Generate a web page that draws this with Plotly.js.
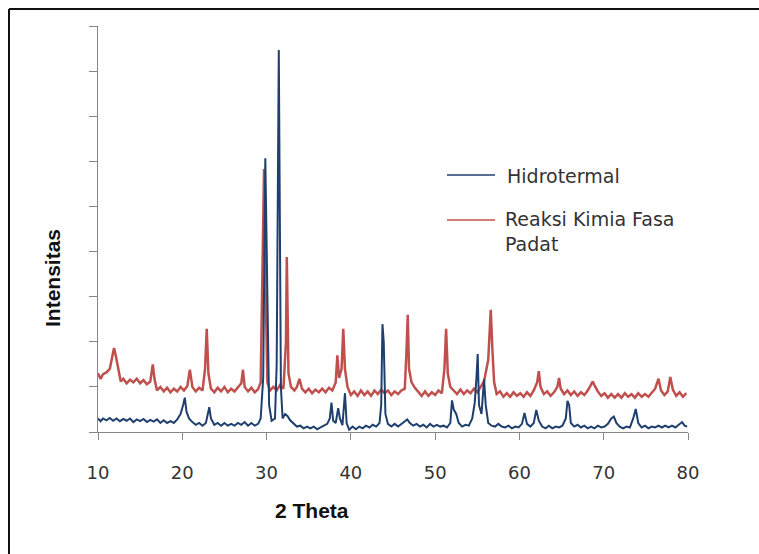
<!DOCTYPE html>
<html>
<head>
<meta charset="utf-8">
<script src="https://cdn.plot.ly/plotly-3.0.1.min.js"></script>
<style>
html,body{margin:0;padding:0;background:#fff;}
#chart{width:759px;height:554px;}
</style>
</head>
<body>
<div id="chart"></div>
<script>
// ---- data (2 Theta in degrees, intensity in arbitrary units) ----
const seriesNames = ["Hidrotermal", "Reaksi Kimia Fasa<br>Padat"];

const redX = [10.0,10.3,10.6,11.0,11.4,11.7,11.9,12.1,12.4,12.7,13.0,13.4,13.8,14.2,14.6,15.0,15.4,15.8,16.2,16.5,16.7,17.0,17.4,17.8,18.2,18.6,19.0,19.4,19.8,20.2,20.6,20.9,21.2,21.6,22.0,22.4,22.7,22.9,23.1,23.4,23.8,24.2,24.6,25.0,25.4,25.8,26.2,26.6,27.0,27.2,27.4,27.8,28.2,28.6,29.0,29.3,29.5,29.7,29.9,30.1,30.4,30.8,31.2,31.6,32.0,32.3,32.4,32.6,32.9,33.3,33.6,33.9,34.2,34.6,35.0,35.4,35.8,36.2,36.6,37.0,37.4,37.8,38.2,38.4,38.6,38.9,39.1,39.3,39.6,40.0,40.4,40.8,41.2,41.6,42.0,42.4,42.8,43.2,43.6,44.0,44.4,44.8,45.2,45.6,46.0,46.4,46.6,46.75,46.9,47.2,47.6,48.0,48.4,48.8,49.2,49.6,50.0,50.4,50.8,51.1,51.3,51.5,51.8,52.2,52.6,53.0,53.4,53.8,54.2,54.6,55.0,55.4,55.8,56.3,56.6,56.8,57.0,57.3,57.7,58.1,58.5,58.9,59.3,59.7,60.1,60.5,60.9,61.3,61.7,62.1,62.3,62.5,62.9,63.3,63.7,64.1,64.5,64.7,64.9,65.3,65.7,66.1,66.5,66.9,67.3,67.7,68.1,68.5,68.7,68.9,69.3,69.7,70.1,70.5,70.9,71.3,71.7,72.1,72.5,72.9,73.3,73.7,74.1,74.5,74.9,75.3,75.7,76.1,76.5,76.8,77.2,77.6,77.9,78.2,78.6,79.0,79.4,79.8];
const redY = [130,118,128,132,140,165,186,170,140,112,118,108,116,110,118,108,115,106,112,150,118,92,100,90,98,88,96,90,100,92,102,138,100,90,98,92,140,229,130,96,88,98,90,100,88,96,90,100,108,138,100,90,98,88,95,110,400,583,300,110,92,100,92,104,96,200,388,130,100,92,100,118,96,88,96,86,94,88,96,88,98,92,110,170,120,140,229,140,100,82,90,80,92,82,90,80,92,84,94,86,92,82,90,84,92,96,180,260,140,110,98,88,80,90,80,88,82,92,86,140,229,130,100,92,84,94,84,92,86,96,88,100,112,160,271,180,110,84,90,78,86,78,88,80,86,78,88,80,92,110,135,100,84,90,80,88,100,120,96,84,92,82,90,80,88,82,92,105,112,104,90,80,86,76,84,76,84,76,86,78,84,76,86,78,84,78,88,96,118,92,82,90,122,94,80,88,78,86];

const blueX = [10.0,10.3,10.6,11.0,11.4,11.8,12.2,12.6,13.0,13.4,13.8,14.2,14.6,15.0,15.4,15.8,16.2,16.6,17.0,17.4,17.8,18.2,18.6,19.0,19.4,19.8,20.1,20.3,20.5,20.8,21.2,21.6,22.0,22.4,22.8,23.0,23.2,23.4,23.8,24.2,24.6,25.0,25.4,25.8,26.2,26.6,27.0,27.4,27.8,28.2,28.6,29.0,29.3,29.6,29.85,30.1,30.3,30.6,31.0,31.2,31.45,31.7,31.9,32.2,32.5,32.8,33.2,33.6,34.0,34.4,34.8,35.2,35.6,36.0,36.4,36.8,37.2,37.5,37.7,37.9,38.2,38.5,38.7,39.0,39.3,39.5,39.8,40.2,40.6,41.0,41.4,41.8,42.2,42.6,43.0,43.4,43.6,43.75,43.9,44.1,44.4,44.8,45.2,45.6,46.0,46.4,46.7,47.0,47.4,47.8,48.2,48.6,49.0,49.4,49.8,50.2,50.6,51.0,51.4,51.8,52.0,52.2,52.5,52.8,53.2,53.6,54.0,54.4,54.7,54.9,55.05,55.2,55.5,55.8,56.0,56.3,56.7,57.1,57.5,57.9,58.3,58.7,59.1,59.5,59.9,60.3,60.6,60.9,61.3,61.7,62.0,62.3,62.7,63.1,63.5,63.9,64.3,64.7,65.1,65.5,65.7,65.9,66.1,66.5,66.9,67.3,67.7,68.1,68.5,68.9,69.3,69.7,70.1,70.5,70.9,71.2,71.5,71.9,72.3,72.7,73.1,73.5,73.8,74.1,74.5,74.9,75.3,75.7,76.1,76.5,76.9,77.3,77.7,78.1,78.5,78.9,79.3,79.6,79.9];
const blueY = [30,24,30,26,31,25,30,24,29,25,30,22,28,24,29,22,27,23,28,20,26,20,24,20,28,40,60,76,45,30,22,16,20,14,20,40,55,30,16,20,14,20,14,18,14,20,16,22,14,20,14,18,30,120,607,300,60,25,30,150,847,100,30,40,35,26,18,12,14,8,12,8,12,6,10,14,18,30,65,25,20,53,30,15,86,20,5,12,6,12,8,14,10,16,12,20,60,239,200,40,18,12,18,12,18,22,28,20,14,18,12,16,10,18,12,16,12,14,10,20,70,50,40,20,12,16,14,30,65,120,173,60,40,117,60,20,14,12,18,12,10,14,8,12,10,18,42,18,12,20,49,25,12,8,14,8,12,10,14,30,69,60,20,12,16,10,14,8,12,8,14,10,12,18,30,34,20,12,8,12,10,30,51,20,10,14,8,12,10,14,10,14,10,14,10,16,22,14,12];

const xTicks = [10,20,30,40,50,60,70,80];
const xTitle = "2 Theta";
const yTitle = "Intensitas";

// ---- helpers: pixel -> paper coordinates for the 590x406 plot box ----
const L = 98, R = 71, T = 26, B = 122, W = 759 - L - R, H = 554 - T - B;
const px = v => (v - L) / W;
const py = v => (554 - B - v) / H;

const red = '#C0504D', blue = '#1F3F6E';

const traces = [
  {x: redX, y: redY, type: 'scatter', mode: 'lines', name: seriesNames[1],
   line: {color: red, width: 2.5}, showlegend: false},
  {x: blueX, y: blueY, type: 'scatter', mode: 'lines', name: seriesNames[0],
   line: {color: blue, width: 2}, showlegend: false}
];

const txtFont = {family: 'DejaVu Sans, Verdana, sans-serif', size: 19, color: '#333'};
const titleFont = {family: 'Liberation Sans, Arial, sans-serif', size: 21, color: '#111', weight: 'bold'};

const layout = {
  width: 759, height: 554,
  margin: {l: L, r: R, t: T, b: B},
  paper_bgcolor: '#fff', plot_bgcolor: '#fff',
  showlegend: false,
  xaxis: {range: [10, 80], tickvals: xTicks, ticktext: xTicks.map(String),
          showgrid: false, zeroline: false, showline: true, linecolor: '#868686', linewidth: 1,
          ticks: 'outside', ticklen: 7, tickcolor: '#868686',
          ticklabelstandoff: 17,
          tickfont: {family: 'DejaVu Sans, Verdana, sans-serif', size: 18, color: '#333'},
          fixedrange: true},
  yaxis: {range: [0, 900], dtick: 100, tick0: 0, showticklabels: false,
          showgrid: false, zeroline: false, showline: true, linecolor: '#868686', linewidth: 1,
          ticks: 'outside', ticklen: 8, tickcolor: '#868686', fixedrange: true},
  shapes: [
    // outer chart frame (top and left edges visible)
    {type: 'line', xref: 'paper', yref: 'paper', x0: px(9), x1: px(759), y0: py(9), y1: py(9), line: {color: '#111', width: 2}},
    {type: 'line', xref: 'paper', yref: 'paper', x0: px(9), x1: px(9), y0: py(9), y1: py(560), line: {color: '#111', width: 2}},
    // legend keys
    {type: 'line', xref: 'paper', yref: 'paper', x0: px(447), x1: px(495), y0: py(175), y1: py(175), line: {color: blue, width: 1.5}},
    {type: 'line', xref: 'paper', yref: 'paper', x0: px(447), x1: px(495), y0: py(220), y1: py(220), line: {color: red, width: 1.5}}
  ],
  annotations: [
    {xref: 'paper', yref: 'paper', x: px(505), y: py(176), xanchor: 'left', yanchor: 'middle',
     text: seriesNames[0], showarrow: false, font: txtFont, align: 'left'},
    {xref: 'paper', yref: 'paper', x: px(503), y: py(206), xanchor: 'left', yanchor: 'top',
     text: seriesNames[1], showarrow: false, font: txtFont, align: 'left'},
    {xref: 'paper', yref: 'paper', x: px(312), y: py(510), xanchor: 'center', yanchor: 'middle',
     text: xTitle, showarrow: false, font: titleFont},
    {xref: 'paper', yref: 'paper', x: px(52), y: py(278), xanchor: 'center', yanchor: 'middle',
     text: yTitle, showarrow: false, font: titleFont, textangle: -90}
  ]
};

Plotly.newPlot('chart', traces, layout, {staticPlot: true, displayModeBar: false});
</script>
</body>
</html>
